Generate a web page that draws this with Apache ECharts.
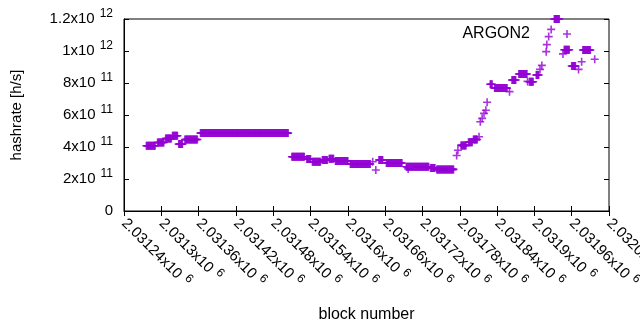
<!DOCTYPE html>
<html>
<head>
<meta charset="utf-8">
<script src="https://cdn.jsdelivr.net/npm/echarts@6/dist/echarts.min.js"></script>
<style>
  html, body { margin: 0; padding: 0; background: #fff; }
  #chart { width: 640px; height: 330px; }
</style>
</head>
<body>
<div id="chart"></div>
<script>
// axis ranges
var xMin = 2031240, xMax = 2032020, xStep = 60;
var yMax = 1.2e12, yStep = 2e11;

// flat stretches: one point per block, hashrate in units of 1e11 h/s
var runStart = [2031276, 2031294, 2031307, 2031318, 2031328, 2031338, 2031363, 2031510, 2031534, 2031543,
                2031559, 2031570, 2031580, 2031604, 2031650, 2031662, 2031694, 2031733, 2031743, 2031782,
                2031794, 2031802, 2031829, 2031836, 2031864, 2031875, 2031892, 2031903, 2031932, 2031948,
                2031960, 2031978];
var runEnd   = [2031290, 2031304, 2031316, 2031326, 2031334, 2031358, 2031504, 2031530, 2031540, 2031556,
                2031567, 2031577, 2031600, 2031636, 2031656, 2031687, 2031730, 2031740, 2031770, 2031790,
                2031800, 2031808, 2031832, 2031856, 2031870, 2031888, 2031898, 2031907, 2031940, 2031956,
                2031966, 2031990];
var runRate  = [4.08, 4.28, 4.53, 4.70, 4.18, 4.47, 4.87, 3.39, 3.25, 3.08,
                3.19, 3.26, 3.12, 2.94, 3.19, 3.00, 2.77, 2.69, 2.60, 4.10,
                4.30, 4.47, 7.92, 7.68, 8.19, 8.56, 8.08, 8.50, 12.0, 10.08,
                9.06, 10.06];

// isolated points
var singleBlock = [2031640, 2031645, 2031697, 2031775, 2031777, 2031811, 2031813, 2031816, 2031819, 2031822,
                   2031824, 2031860, 2031889, 2031909, 2031912, 2031919, 2031920, 2031923, 2031927, 2031946,
                   2031971, 2031976, 2031997];
var singleRate  = [3.08, 2.56, 2.63, 3.47, 3.80, 4.64, 5.58, 5.79, 6.10, 6.30,
                   6.80, 7.46, 8.10, 8.85, 9.10, 9.96, 10.4, 10.9, 11.35, 9.82,
                   8.85, 9.33, 9.48];

var points = [];
runStart.forEach(function (s, i) {
  for (var b = s; b <= runEnd[i]; b++) points.push([b, runRate[i] * 1e11]);
});
singleBlock.forEach(function (b, i) {
  points.push([b, singleRate[i] * 1e11]);
});

var plus = 'path://M4,0H6V4H10V6H6V10H4V6H0V4H4Z';
var purple = '#9400d3';
var fontFam = '"Liberation Sans", Arial, sans-serif';

var rich = {
  m: { fontSize: 15, color: '#000', fontFamily: fontFam },
  s: { fontSize: 12, color: '#000', fontFamily: fontFam, padding: [0, 0, 10, 5] }
};

function sci(v, exp) {
  var m = +(v / Math.pow(10, exp)).toPrecision(7);
  return '{m|' + m + 'x10}{s|' + exp + '}';
}

var myChart = echarts.init(document.getElementById('chart'));

var tickStyle = { show: true, inside: true, length: 5, lineStyle: { color: '#000' } };

var option = {
  animation: false,
  backgroundColor: '#fff',
  grid: {
    left: 124, right: 31, top: 19, bottom: 119,
    outerBoundsMode: 'none',
    show: true, borderColor: '#000', borderWidth: 1
  },
  legend: {
    right: 64, top: 21,
    align: 'right',
    icon: plus,
    itemWidth: 8, itemHeight: 8,
    textStyle: { fontSize: 16, color: '#000', fontFamily: fontFam, padding: [0, 28, 0, 0] },
    data: ['ARGON2']
  },
  xAxis: [{
    type: 'value', min: xMin, max: xMax, interval: xStep,
    name: 'block number', nameLocation: 'middle', nameGap: 96,
    nameTextStyle: { fontSize: 16, color: '#000', fontFamily: fontFam },
    axisLine: { show: true, lineStyle: { color: '#000' } },
    axisTick: tickStyle,
    splitLine: { show: false },
    axisLabel: {
      rotate: -45, margin: 10,
      formatter: function (v) { return sci(v, 6); },
      rich: rich
    }
  }, {
    type: 'value', position: 'top', min: xMin, max: xMax, interval: xStep,
    axisLine: { show: false }, axisTick: tickStyle, axisLabel: { show: false }, splitLine: { show: false }
  }],
  yAxis: [{
    type: 'value', min: 0, max: yMax, interval: yStep,
    name: 'hashrate [h/s]', nameLocation: 'middle', nameGap: 100,
    nameTextStyle: { fontSize: 15, color: '#000', fontFamily: fontFam },
    axisLine: { show: true, lineStyle: { color: '#000' } },
    axisTick: tickStyle,
    splitLine: { show: false },
    axisLabel: {
      margin: 11,
      formatter: function (v) {
        if (v === 0) return '{m|0}';
        return sci(v, Math.floor(Math.log10(v) + 1e-9));
      },
      rich: rich
    }
  }, {
    type: 'value', position: 'right', min: 0, max: yMax, interval: yStep,
    axisLine: { show: false }, axisTick: tickStyle, axisLabel: { show: false }, splitLine: { show: false }
  }],
  series: [{
    name: 'ARGON2',
    type: 'scatter',
    symbol: plus,
    symbolSize: 8,
    clip: false,
    itemStyle: { color: purple },
    data: points
  }]
};

myChart.setOption(option);
</script>
</body>
</html>
